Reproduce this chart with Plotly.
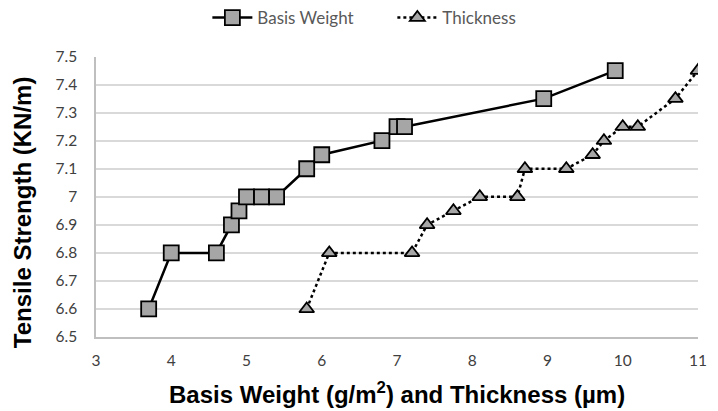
import plotly.graph_objects as go

bw_x = [3.7, 4.0, 4.6, 4.8, 4.9, 5.0, 5.2, 5.4, 5.8, 6.0, 6.8, 7.0, 7.1, 8.95, 9.9]
bw_y = [6.6, 6.8, 6.8, 6.9, 6.95, 7.0, 7.0, 7.0, 7.1, 7.15, 7.2, 7.25, 7.25, 7.35, 7.45]
th_x = [5.8, 6.1, 7.2, 7.4, 7.75, 8.1, 8.6, 8.7, 9.25, 9.6, 9.75, 10.0, 10.2, 10.7, 11.0]
th_y = [6.6, 6.8, 6.8, 6.9, 6.95, 7.0, 7.0, 7.1, 7.1, 7.15, 7.2, 7.25, 7.25, 7.35, 7.45]

tfam = "Lato, Roboto, sans-serif"
tick_font = dict(family=tfam, size=15.5, color="#404040")
title_font = dict(family="Liberation Sans, Arial, sans-serif", size=24, color="#000000")

fig = go.Figure()
fig.add_trace(go.Scatter(
    x=bw_x, y=bw_y, name="Basis Weight", mode="lines+markers",
    line=dict(color="black", width=2.5),
    marker=dict(symbol="square", size=15, color="#A6A6A6", line=dict(color="black", width=1.8)),
))
fig.add_trace(go.Scatter(
    x=th_x, y=th_y, name="Thickness", mode="lines+markers",
    line=dict(color="black", width=2.5, dash="dot"),
    marker=dict(symbol="triangle-up", size=13, color="#A6A6A6", line=dict(color="black", width=1.8)),
))

fig.update_layout(
    width=718, height=411,
    margin=dict(l=96, r=11, t=56, b=74),
    paper_bgcolor="white", plot_bgcolor="white",
    showlegend=True,
    legend=dict(orientation="h", x=0.185, xanchor="left", y=1.0, yref="container", yanchor="top",
                font=dict(family=tfam, size=17, color="#595959"),
                itemwidth=40, entrywidth=130, tracegroupgap=0),
    xaxis=dict(range=[3, 11], dtick=1, tick0=3, showgrid=False, zeroline=False,
               showline=True, linecolor="#BFBFBF", linewidth=1.5, ticks="", ticklen=0,
               tickfont=tick_font, ticklabelstandoff=9),
    yaxis=dict(range=[6.5, 7.5], dtick=0.1, tick0=6.5, showgrid=True, gridcolor="#D9D9D9", gridwidth=1.5,
               zeroline=False, showline=True, linecolor="#BFBFBF", linewidth=1.5, ticks="", ticklen=0,
               tickfont=tick_font, tickformat="~g", ticklabelstandoff=14),
    annotations=[
        dict(text="<b>Basis Weight (g/m<sup>2</sup>) and Thickness (µm)</b>",
             xref="paper", yref="paper", x=0.5, y=-0.199, xanchor="center", yanchor="middle",
             showarrow=False, font=title_font),
        dict(text="<b>Tensile Strength (KN/m)</b>", textangle=-90,
             xref="paper", yref="paper", x=-0.123, y=0.445, xanchor="center", yanchor="middle",
             showarrow=False, font=title_font),
    ],
)

fig.write_html("out.html", config={"displayModeBar": False},
               post_script="document.body.style.margin='0';document.body.style.padding='0';")
